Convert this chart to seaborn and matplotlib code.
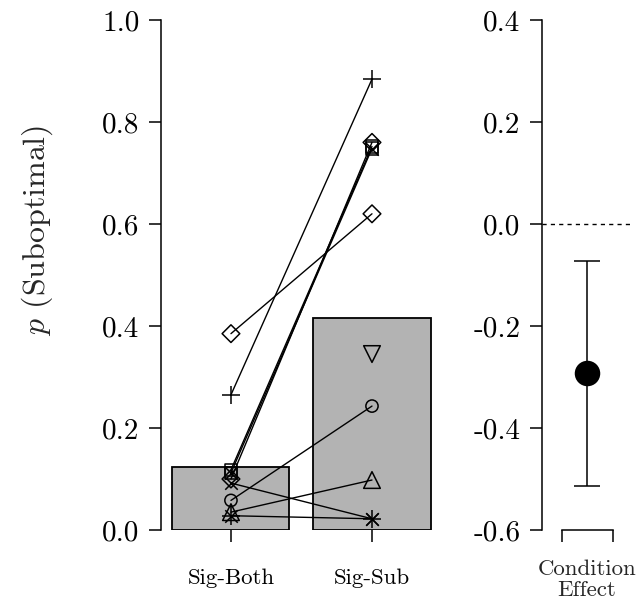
import numpy as np
import pandas as pd
import matplotlib
matplotlib.use("Agg")
import matplotlib.pyplot as plt
import matplotlib.transforms as mtransforms
import seaborn as sns

# Group means for the two signalling conditions
conditions = ["Sig-Both", "Sig-Sub"]
condition_means = [0.124, 0.416]

# Per-subject proportions of suboptimal choices (NaN = not measured)
subject_markers = [["s"], ["o"], ["^"], ["+"], ["x"], ["D"], ["v"], ["s", "x"], ["+", "x"], ["D"]]
p_sig_both = [0.118, 0.058, 0.035, 0.265, 0.092, 0.385, np.nan, 0.112, 0.028, 0.100]
p_sig_sub = [0.752, 0.243, 0.098, 0.884, 0.022, 0.620, 0.345, 0.748, 0.022, 0.760]

# Within-subject condition effect with its interval
effect_label = "Condition\nEffect"
effect_mean = [-0.293]
effect_ci_low = [-0.513]
effect_ci_high = [-0.073]

left_ticks = [0.0, 0.2, 0.4, 0.6, 0.8, 1.0]
right_ticks = [-0.6, -0.4, -0.2, 0.0, 0.2, 0.4]

marker_sizes = {"s": 9, "o": 8.8, "^": 12, "v": 12, "+": 13, "x": 9, "D": 9}
line_art = {"+", "x"}

sns.set_theme(style="ticks")
plt.rcParams["font.family"] = ["cmr10"]
plt.rcParams["mathtext.fontset"] = "cm"
plt.rcParams["axes.unicode_minus"] = False
plt.rcParams["axes.linewidth"] = 1.1
plt.rcParams["axes.edgecolor"] = "black"

W, H = 637, 602
fig = plt.figure(figsize=(W / 100, H / 100), dpi=100)

# ---- left panel: bars with individual subjects ----
ax = fig.add_axes([161 / W, 72 / H, (442.5 - 161) / W, 510 / H])
sns.barplot(x=conditions, y=condition_means, width=0.83, color="#b3b3b3",
            saturation=1, edgecolor="black", linewidth=1.3, ax=ax)

pos = np.arange(len(conditions))
for mk, both, sub in zip(subject_markers, p_sig_both, p_sig_sub):
    df = pd.DataFrame({"x": pos, "p": [both, sub]})
    sns.lineplot(data=df, x="x", y="p", estimator=None, sort=False,
                 color="black", lw=1.0, ax=ax, zorder=3)
    for m in mk:
        face = "black" if m in line_art else "none"
        sns.scatterplot(data=df, x="x", y="p", marker=m,
                        s=marker_sizes[m] ** 2, facecolor=face,
                        edgecolor="black", linewidth=1.1,
                        ax=ax, zorder=4, clip_on=False, legend=False)

ax.set_xlim(-0.496, 1.5)
ax.set_ylim(0, 1)
ax.set_xticks(pos)
ax.set_xticklabels(conditions)
ax.set_yticks(left_ticks)
ax.set_yticklabels([f"{t:.1f}" for t in left_ticks])
ax.tick_params(axis="y", length=8.6, width=1.1, pad=7, labelsize=21, colors="black")
ax.tick_params(axis="x", length=8.6, width=1.1, pad=19, labelsize=16.5, colors="black")
for s in ["top", "right", "bottom"]:
    ax.spines[s].set_visible(False)
ax.spines["left"].set_bounds(0, 1)
ax.set_xlabel("")
ax.set_ylabel(r"$p$ (Suboptimal)", fontsize=23)
ax.yaxis.set_label_coords((55 - 161) / (442.5 - 161), 0.588)

# ---- right panel: condition effect ----
ax2 = fig.add_axes([542 / W, 72 / H, 88 / W, 510 / H])
ax2.set_xlim(-45 / 127.5, 43 / 127.5)
ax2.set_ylim(-0.6, 0.4)
ax2.axhline(0, color="black", lw=1.0, ls=(0, (3, 3)))
err = [[effect_mean[0] - effect_ci_low[0]], [effect_ci_high[0] - effect_mean[0]]]
ax2.errorbar([0], effect_mean, yerr=err, fmt="none", ecolor="black",
             elinewidth=1.1, capsize=9.4, capthick=1.1)
sns.scatterplot(x=[0], y=effect_mean, s=17 ** 2, color="black",
                edgecolor="black", ax=ax2, zorder=5, clip_on=False, legend=False)

ax2.set_yticks(right_ticks)
ax2.set_yticklabels([f"{t:.1f}" for t in right_ticks])
ax2.set_xticks([-0.2, 0.2])
ax2.set_xticklabels(["", ""])
ax2.tick_params(axis="y", length=8.6, width=1.1, pad=7, labelsize=21, colors="black")
ax2.tick_params(axis="x", length=8.6, width=1.1, colors="black")
for s in ["top", "right"]:
    ax2.spines[s].set_visible(False)
ax2.spines["bottom"].set_bounds(-0.2, 0.2)
ax2.spines["left"].set_bounds(-0.6, 0.4)
trans = mtransforms.blended_transform_factory(ax2.transData, fig.transFigure)
ax2.text(0, 1 - 559 / H, effect_label, transform=trans, ha="center", va="top",
         fontsize=16.5, linespacing=1.15)

fig.savefig("out.png", dpi=100)
